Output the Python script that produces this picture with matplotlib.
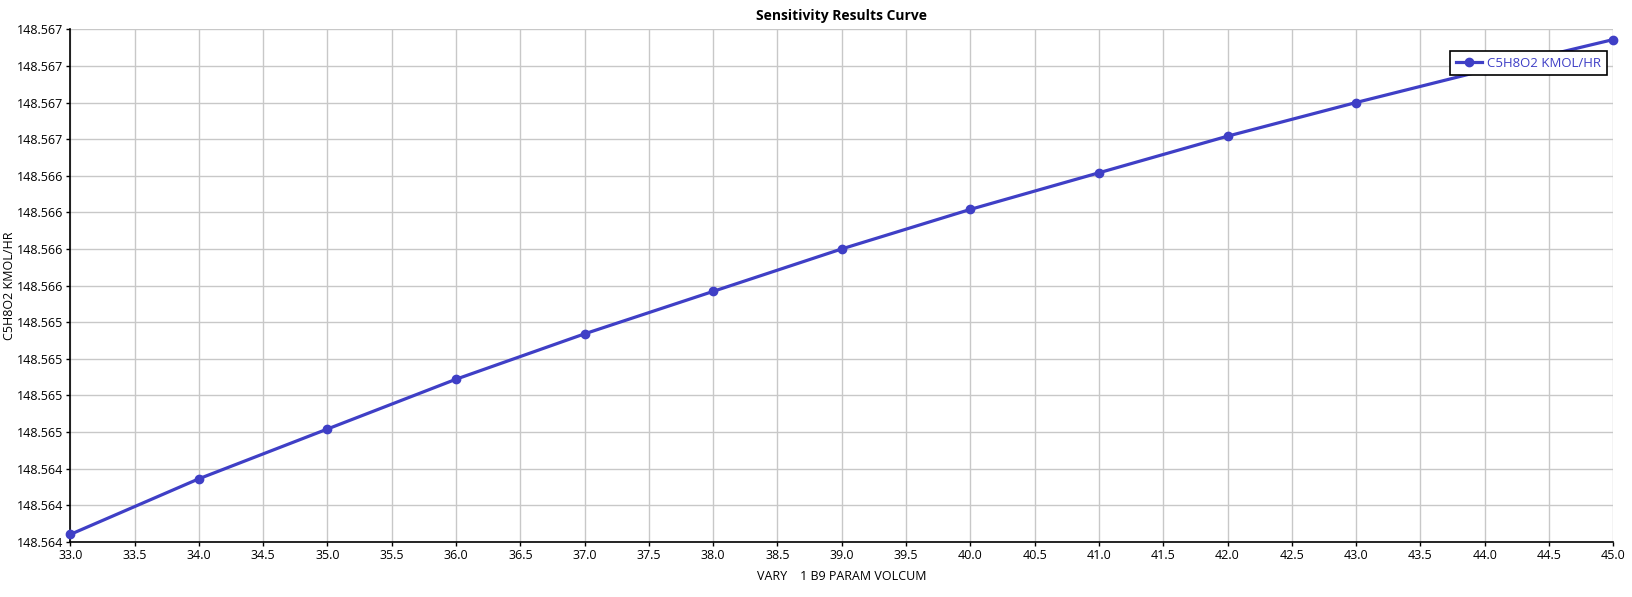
import matplotlib
matplotlib.use("Agg")
import matplotlib.pyplot as plt
from matplotlib.ticker import FixedLocator, FixedFormatter

plt.rcParams['font.family'] = ['Open Sans', 'DejaVu Sans']

# data
vary_volcum = [33, 34, 35, 36, 37, 38, 39, 40, 41, 42, 43, 44, 45]
c5h8o2_kmol_hr = [148.56380, 148.56418, 148.56452, 148.56486, 148.56517,
                  148.56546, 148.56575, 148.56602, 148.56627, 148.56652,
                  148.56675, 148.56697, 148.56718]

y_ticks = [148.56375 + 0.00025 * i for i in range(15)]
y_tick_labels = ['148.564'] * 3 + ['148.565'] * 4 + ['148.566'] * 4 + ['148.567'] * 4
x_ticks = [33.0 + 0.5 * i for i in range(25)]

line_color = '#3F3FC6'

fig = plt.figure(figsize=(16.32, 5.97), dpi=100)
ax = fig.add_axes([0.0431, 0.0926, 0.9454, 0.8583])

ax.plot(vary_volcum, c5h8o2_kmol_hr, color=line_color, lw=2.3,
        marker='o', ms=6, label='C5H8O2 KMOL/HR', zorder=3, clip_on=False)

ax.set_xlim(33, 45)
ax.set_ylim(y_ticks[0], y_ticks[-1])
ax.xaxis.set_major_locator(FixedLocator(x_ticks))
ax.set_xticklabels([f'{v:.1f}' for v in x_ticks])
ax.yaxis.set_major_locator(FixedLocator(y_ticks))
ax.yaxis.set_major_formatter(FixedFormatter(y_tick_labels))

ax.grid(True, color='#C8C8C8', lw=1)
ax.set_axisbelow(True)
for side in ['top', 'right']:
    ax.spines[side].set_visible(False)
for side in ['left', 'bottom']:
    ax.spines[side].set_linewidth(1.2)
ax.tick_params(direction='out', length=3, width=1, labelsize=9, pad=2)

ax.set_title('Sensitivity Results Curve', fontsize=10, fontweight='bold', pad=7)
ax.set_xlabel('VARY    1 B9 PARAM VOLCUM', fontsize=9, labelpad=6)
ax.set_ylabel('C5H8O2 KMOL/HR', fontsize=9)
ax.yaxis.set_label_coords(-0.0355, 0.5)

leg = ax.legend(loc='upper right', bbox_to_anchor=(0.9885, 0.9251),
                bbox_transform=fig.transFigure, fontsize=9.5, fancybox=False,
                framealpha=1, edgecolor='black', borderpad=0.4,
                handlelength=2, handletextpad=0.4, labelcolor=line_color)
leg.get_frame().set_linewidth(1.2)
leg.set_zorder(5)

fig.savefig('out.png', dpi=100)
